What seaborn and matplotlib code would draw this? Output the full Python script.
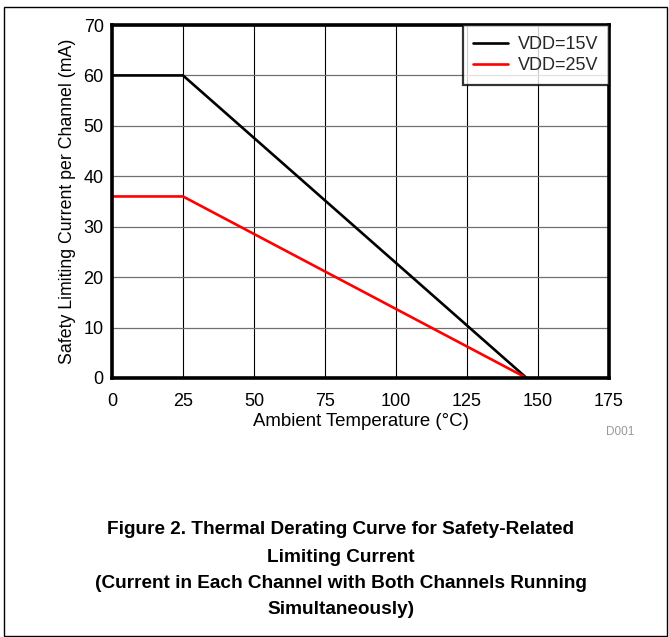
import matplotlib
matplotlib.use("Agg")
import matplotlib.pyplot as plt
import seaborn as sns
import pandas as pd
from matplotlib.patches import Rectangle

temp_15 = [0, 25, 146]
cur_15 = [60, 60, 0]
temp_25 = [0, 25, 146]
cur_25 = [36, 36, 0]
series_labels = ["VDD=15V", "VDD=25V"]
xticks = [0, 25, 50, 75, 100, 125, 150, 175]
yticks = [0, 10, 20, 30, 40, 50, 60, 70]

df = pd.concat([
    pd.DataFrame({"T": temp_15, "I": cur_15, "s": series_labels[0]}),
    pd.DataFrame({"T": temp_25, "I": cur_25, "s": series_labels[1]}),
])

sns.set_theme(style="white")
plt.rcParams["font.family"] = ["Liberation Sans", "DejaVu Sans"]

W, H = 669, 637
fig = plt.figure(figsize=(W / 100, H / 100), dpi=100)
ax = fig.add_axes([112 / W, 1 - 378 / H, (609 - 112) / W, (378 - 25) / H])

sns.lineplot(data=df, x="T", y="I", hue="s", palette=["black", "#ff0000"],
             linewidth=1.9, ax=ax, sort=False)

ax.set_xlim(0, 175)
ax.set_ylim(0, 70)
ax.set_xticks(xticks)
ax.set_yticks(yticks)
ax.tick_params(labelsize=13, length=0, colors="black")
ax.tick_params(axis="x", pad=11)
ax.tick_params(axis="y", pad=6)
ax.xaxis.grid(True, color="black", linewidth=0.8)
ax.yaxis.grid(True, color="#707070", linewidth=0.9)
ax.set_axisbelow(True)
for sp in ax.spines.values():
    sp.set_visible(True)
    sp.set_color("black")
    sp.set_linewidth(2.6)
ax.set_xlabel("Ambient Temperature (°C)", fontsize=13.4, labelpad=2, color="black")
ax.set_ylabel("Safety Limiting Current per Channel (mA)", fontsize=12.8, labelpad=5, color="black")

leg = ax.legend(loc="upper right", fontsize=13, frameon=True, fancybox=False,
                borderaxespad=0, handlelength=1.9, handletextpad=0.55,
                borderpad=0.6, labelspacing=0.25)
leg.get_frame().set_edgecolor("black")
leg.get_frame().set_linewidth(1.6)
leg.set_title(None)

fig.text(620 / W, 1 - 432 / H, "D001", fontsize=8.5, color="#999999", ha="center", va="center")

caption = ["Figure 2. Thermal Derating Curve for Safety-Related",
           "Limiting Current",
           "(Current in Each Channel with Both Channels Running",
           "Simultaneously)"]
for line, y in zip(caption, [530, 557, 583, 609]):
    fig.text(341 / W, 1 - y / H, line, fontsize=13.7, fontweight="bold",
             ha="center", va="center", color="black")

fig.patches.append(Rectangle((4 / W, 1 / H), (W - 6) / W, (H - 8) / H,
                             transform=fig.transFigure, fill=False,
                             edgecolor="black", linewidth=1.0))

fig.savefig("out.png", dpi=100)
